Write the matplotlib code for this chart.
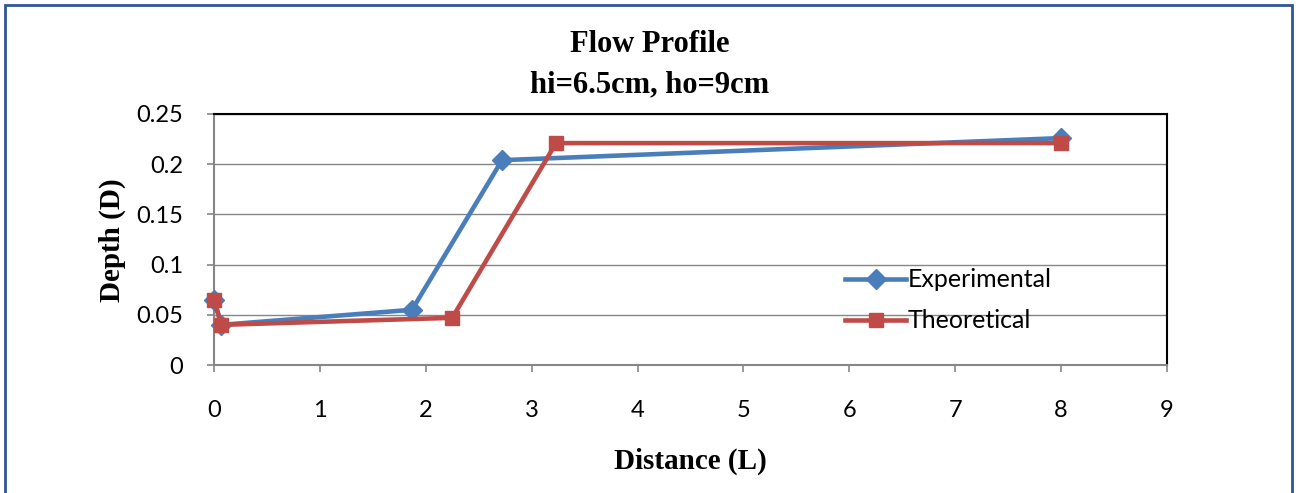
import matplotlib
matplotlib.use('Agg')
import matplotlib.pyplot as plt
from matplotlib.patches import Rectangle

# measured flow profile vs theory
exp_x = [0.0, 0.07, 1.87, 2.72, 8.0]
exp_y = [0.065, 0.04, 0.055, 0.204, 0.226]
theo_x = [0.0, 0.07, 2.25, 3.23, 8.0]
theo_y = [0.065, 0.04, 0.047, 0.221, 0.221]

x_ticks = [0, 1, 2, 3, 4, 5, 6, 7, 8, 9]
y_ticks = [0, 0.05, 0.1, 0.15, 0.2, 0.25]
y_ticklabels = ['0', '0.05', '0.1', '0.15', '0.2', '0.25']

blue = '#4a7ebb'
red = '#be4b48'
tick_font = 'Lato'
serif = 'Liberation Serif'

W, H = 1299, 493
fig = plt.figure(figsize=(W / 100, H / 100), dpi=100)
ax = fig.add_axes([214 / W, 1 - 365 / H, (1167 - 214) / W, (365 - 114) / H])

ax.plot(exp_x, exp_y, color=blue, lw=3.3, marker='D', ms=10, label='Experimental',
        zorder=3, clip_on=False)
ax.plot(theo_x, theo_y, color=red, lw=3.3, marker='s', ms=10, label='Theoretical',
        zorder=4, clip_on=False)

ax.set_xlim(0, 9)
ax.set_ylim(0, 0.25)
ax.set_xticks(x_ticks)
ax.set_xticklabels([str(t) for t in x_ticks], fontfamily=tick_font, fontsize=17)
ax.set_yticks(y_ticks)
ax.set_yticklabels(y_ticklabels, fontfamily=tick_font, fontsize=17)
ax.yaxis.grid(True, color='#868686', lw=1)
ax.set_axisbelow(True)
ax.tick_params(direction='out', length=5, width=1.2, color='#868686', pad=17)
ax.tick_params(axis='x', pad=20)

for side in ['left', 'bottom']:
    ax.spines[side].set_color('#868686')
    ax.spines[side].set_linewidth(1.5)
for side in ['top', 'right']:
    ax.spines[side].set_color('black')
    ax.spines[side].set_linewidth(1.5)

leg = ax.legend(loc='upper left', bbox_to_anchor=(0.662, 0.385), frameon=False,
                prop={'family': tick_font, 'size': 18}, handlelength=2.45,
                handletextpad=0.05, labelspacing=0.72, borderaxespad=0,
                borderpad=0)

fig.text(650 / W, 1 - 45 / H, 'Flow Profile', ha='center', va='center',
         fontfamily=serif, fontweight='bold', fontsize=22)
fig.text(650 / W, 1 - 85 / H, 'hi=6.5cm, ho=9cm', ha='center', va='center',
         fontfamily=serif, fontweight='bold', fontsize=22)
fig.text(690 / W, 1 - 461 / H, 'Distance (L)', ha='center', va='center',
         fontfamily=serif, fontweight='bold', fontsize=21)
fig.text(112 / W, 1 - 240 / H, 'Depth (D)', ha='center', va='center', rotation=90,
         fontfamily=serif, fontweight='bold', fontsize=21)

# page border
fig.patches.append(Rectangle((5 / W, -0.05), (1292 - 5) / W, 1.05 - 5 / H,
                             transform=fig.transFigure, fill=False,
                             edgecolor='#2f5597', lw=2))

fig.savefig('out.png', dpi=100)
